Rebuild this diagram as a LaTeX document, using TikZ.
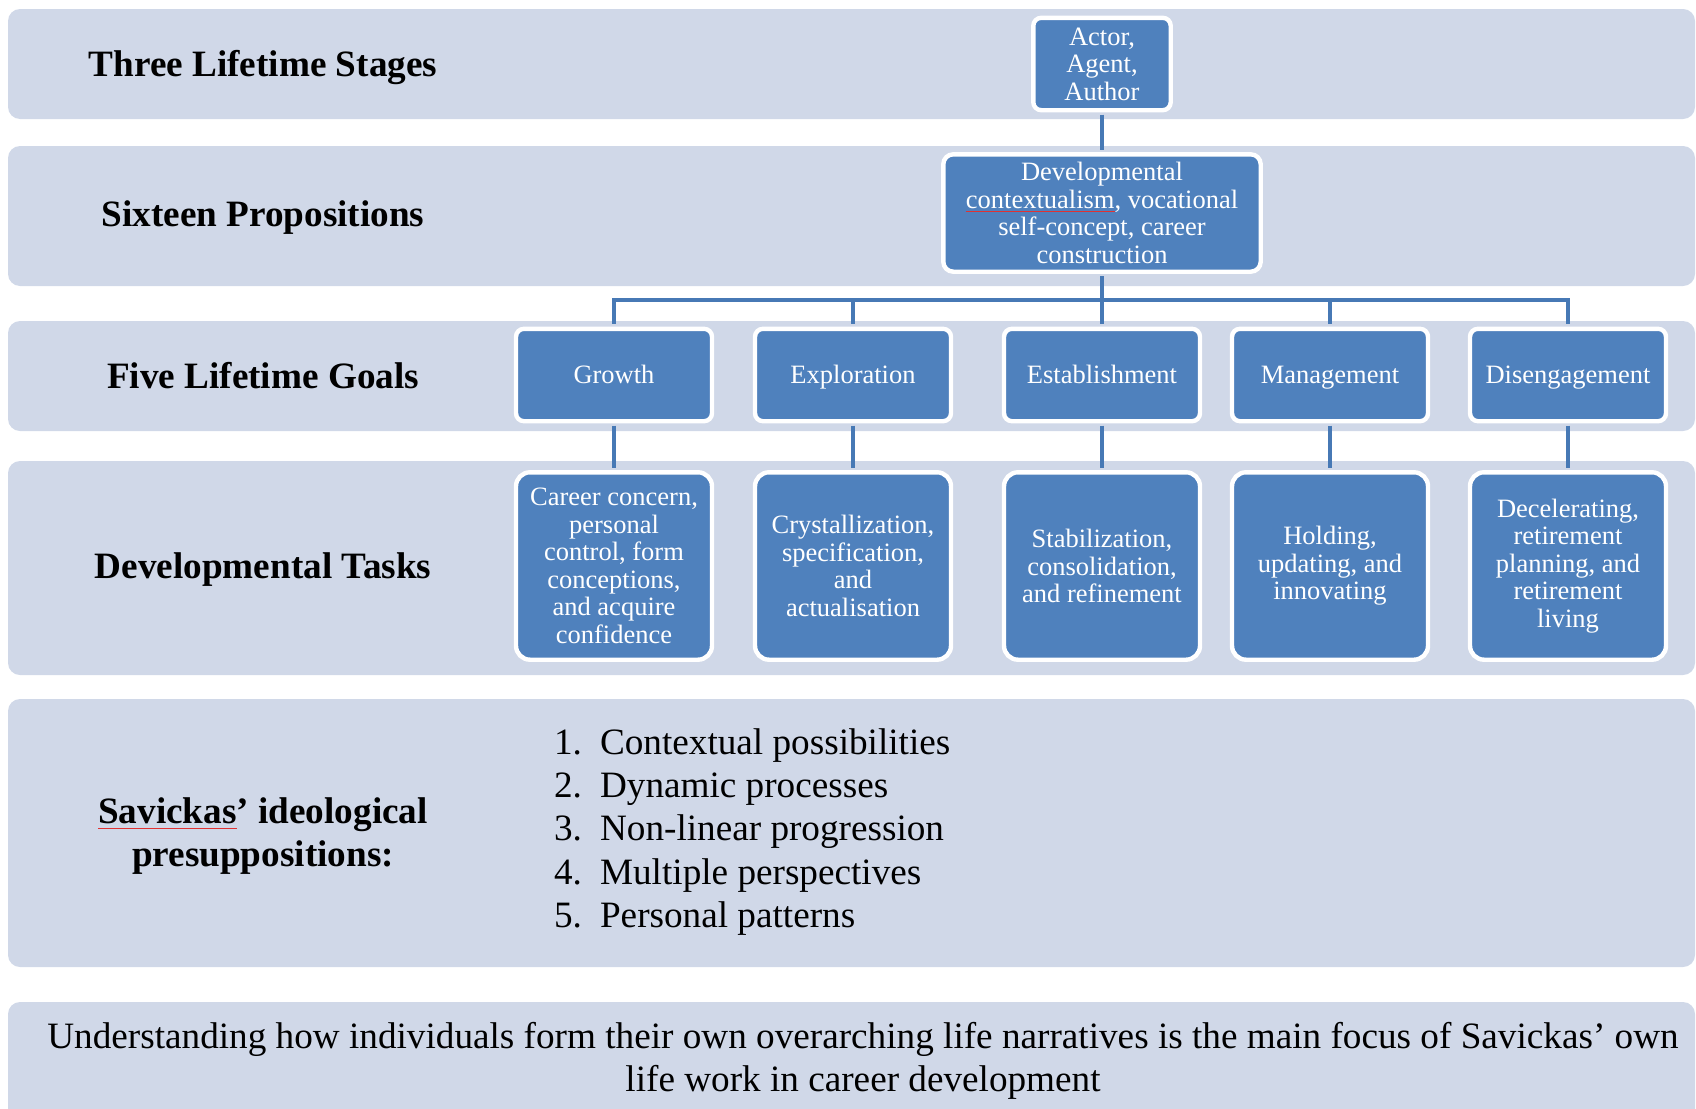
\documentclass[tikz,border=0pt]{standalone}
\usepackage{fontspec}
\setmainfont{Liberation Serif}
\definecolor{bandc}{RGB}{208,216,232}
\definecolor{boxc}{RGB}{79,129,189}
\definecolor{linkc}{RGB}{71,121,181}
\definecolor{spellc}{RGB}{225,50,50}
% thin red spell-check underline
\newsavebox\spellbox
\newcommand\spellerr[1]{\sbox\spellbox{#1}\rlap{\textcolor{spellc}{\rule[-0.3ex]{\wd\spellbox}{0.35pt}}}\usebox\spellbox}

\begin{document}
\begin{tikzpicture}[x=0.5pt, y=-0.5pt,
  band/.style={fill=bandc, rounded corners=6pt},
  rowlabel/.style={font=\fontsize{18.6}{21.6}\selectfont\bfseries, align=center},
  stage/.style={draw=white, line width=2.2pt, fill=boxc, text=white, rounded corners=4pt,
                align=center, inner sep=2pt, font=\fontsize{13.25}{13.75}\selectfont},
  goal/.style={stage, minimum width=98pt, minimum height=46.2pt, text height=11pt, text depth=3pt},
  task/.style={stage, minimum width=98pt, minimum height=93.7pt, rounded corners=7pt},
  link/.style={draw=linkc, line width=2pt, shorten <=1.1pt, shorten >=1.1pt},
  plain/.style={font=\fontsize{18.6}{21.6}\selectfont},
]
\clip (0,0) rectangle (1696,1108);

% background bands
\foreach \ya/\yb in {9/119, 146/286, 321/431, 461/675, 699/967, 1002/1140}
  \fill[band] (8,\ya) rectangle (1695,\yb);

% row headers
\node[rowlabel] (lstages) at (263,68) {Three Lifetime Stages};
\node[rowlabel] (lprops) at (263,218) {Sixteen Propositions};
\node[rowlabel] (lgoals) at (263,376) {Five Lifetime Goals};
\node[rowlabel] (ltasks) at (263,570) {Developmental Tasks};
\node[rowlabel] (lpresup) at (263,836) {\spellerr{Savickas}’ ideological\\presuppositions:};

% top of the tree
\node[stage, minimum width=68.7pt, minimum height=46.2pt] (actor) at (1102,64)
  {Actor,\\Agent,\\Author};
\node[stage, minimum width=158.7pt, minimum height=58.7pt, rounded corners=5pt] (dev) at (1102,213)
  {Developmental\\\spellerr{contextualism}, vocational\\self-concept, career\\construction};

% goals
\node[goal] (g1) at (614,375) {Growth};
\node[goal] (g2) at (853,375) {Exploration};
\node[goal] (g3) at (1102,375) {Establishment};
\node[goal] (g4) at (1330,375) {Management};
\node[goal] (g5) at (1568,375) {Disengagement};

% tasks
\node[task] (t1) at (614,566)
  {Career concern,\\personal\\control, form\\conceptions,\\and acquire\\confidence};
\node[task] (t2) at (853,566)
  {Crystallization,\\specification,\\and\\actualisation};
\node[task] (t3) at (1102,566)
  {Stabilization,\\consolidation,\\and refinement};
\node[task] (t4) at (1330,566)
  {Holding,\\updating, and\\innovating};
\node[task] (t5) at (1568,566)
  {Decelerating,\\retirement\\planning, and\\retirement\\living};

% connectors
\coordinate (bar) at (1102,300);
\draw[link] (actor.south) -- (dev.north);
\foreach \i in {1,...,5} {
  \draw[link] (dev.south) -- (dev.south |- bar) -| (g\i.north);
  \draw[link] (g\i.south) -- (t\i.north);
}

% presuppositions list
\node[plain, align=left, anchor=west] (presup) at (547,832)
  {\makebox[23pt][l]{1.}Contextual possibilities\\
   \makebox[23pt][l]{2.}Dynamic processes\\
   \makebox[23pt][l]{3.}Non-linear progression\\
   \makebox[23pt][l]{4.}Multiple perspectives\\
   \makebox[23pt][l]{5.}Personal patterns};

% closing statement
\node[plain, align=center] (focus) at (863,1061)
  {Understanding how individuals form their own overarching life narratives is the main focus of Savickas’ own\\
   life work in career development};

\end{tikzpicture}
\end{document}
